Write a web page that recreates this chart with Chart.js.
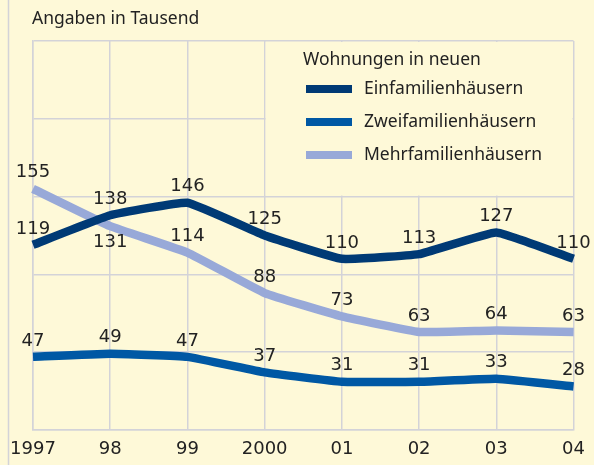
<!DOCTYPE html>
<html>
<head>
<meta charset="utf-8">
<script src="https://cdn.jsdelivr.net/npm/chart.js@4"></script>
<style>
  html, body { margin: 0; padding: 0; background: #fef9d8; }
  #wrap { width: 594px; height: 465px; position: relative; }
</style>
</head>
<body>
<div id="wrap"><canvas id="chart"></canvas></div>
<script>
        const years = ['1997', '98', '99', '2000', '01', '02', '03', '04'];
        const einfamilien = [119, 138, 146, 125, 110, 113, 127, 110];
        const zweifamilien = [47, 49, 47, 37, 31, 31, 33, 28];
        const mehrfamilien = [155, 131, 114, 88, 73, 63, 64, 63];

        const bg = '#fef9d8';
        const gridColor = '#d3d3d8';
        const textColor = '#222222';
        const numFont = '18px "DejaVu Sans"';
        const textFont = '17.5px "Noto Sans"';

        const ctx = document.getElementById('chart').getContext('2d');

        // background, left frame line and the box the legend sits in
        const framePlugin = {
            id: 'frame',
            beforeDraw(chart) {
                const c = chart.ctx;
                c.save();
                c.fillStyle = bg;
                c.fillRect(0, 0, chart.width, chart.height);
                c.strokeStyle = gridColor;
                c.lineWidth = 1.5;
                c.beginPath();
                c.moveTo(8.5, 0);
                c.lineTo(8.5, chart.height);
                c.stroke();
                c.fillStyle = textColor;
                c.font = textFont;
                c.textBaseline = 'middle';
                c.fillText('Angaben in Tausend', 32, 19);
                c.restore();
            },
            beforeDatasetsDraw(chart) {
                const c = chart.ctx;
                const x = chart.scales.x;
                const y = chart.scales.y;
                c.save();
                c.fillStyle = bg;
                const left = x.getPixelForValue(3) + 1;
                const right = x.getPixelForValue(7) - 1;
                const top = y.getPixelForValue(250) + 1;
                const bottom = y.getPixelForValue(150) - 1;
                c.fillRect(left, top, right - left, bottom - top);
                c.restore();
            }
        };

        const legendPlugin = {
            id: 'boxLegend',
            afterDraw(chart) {
                const c = chart.ctx;
                c.save();
                c.fillStyle = textColor;
                c.font = textFont;
                c.textBaseline = 'middle';
                c.fillText('Wohnungen in neuen', 303, 60);
                chart.data.datasets.forEach((ds, i) => {
                    const yy = 89 + i * 33;
                    c.fillStyle = ds.borderColor;
                    c.fillRect(306, yy - 4, 46, 8);
                    c.fillStyle = textColor;
                    c.fillText(ds.label, 364, yy);
                });
                c.restore();
            }
        };

        const valueLabels = {
            id: 'valueLabels',
            afterDatasetsDraw(chart) {
                const c = chart.ctx;
                c.save();
                c.font = numFont;
                c.fillStyle = textColor;
                c.textAlign = 'center';
                chart.data.datasets.forEach((ds, i) => {
                    const meta = chart.getDatasetMeta(i);
                    const below = ds.labelBelow || [];
                    meta.data.forEach((pt, j) => {
                        if (below.includes(j)) {
                            c.textBaseline = 'top';
                            c.fillText(ds.data[j], pt.x, pt.y + 7);
                        } else {
                            c.textBaseline = 'bottom';
                            c.fillText(ds.data[j], pt.x, pt.y - 7);
                        }
                    });
                });
                c.restore();
            }
        };

        const lineStyle = {
            borderWidth: 8.5,
            pointRadius: 0,
            tension: 0.1,
            borderJoinStyle: 'round',
            borderCapStyle: 'butt',
            fill: false
        };

        new Chart(ctx, {
            type: 'line',
            data: {
                labels: years,
                datasets: [
                    Object.assign({ label: 'Einfamilienhäusern', data: einfamilien, borderColor: '#003a75' }, lineStyle),
                    Object.assign({ label: 'Zweifamilienhäusern', data: zweifamilien, borderColor: '#0058a4' }, lineStyle),
                    Object.assign({ label: 'Mehrfamilienhäusern', data: mehrfamilien, borderColor: '#98a9d8', labelBelow: [1] }, lineStyle)
                ]
            },
            options: {
                responsive: true,
                maintainAspectRatio: false,
                animation: false,
                layout: { padding: { left: 33, right: 16, top: 41, bottom: 0 } },
                plugins: {
                    legend: { display: false },
                    tooltip: { enabled: false }
                },
                scales: {
                    x: {
                        offset: false,
                        grid: { color: gridColor, lineWidth: 1.5, drawTicks: false },
                        border: { color: gridColor, width: 1.5 },
                        ticks: {
                            color: textColor,
                            font: { family: 'DejaVu Sans', size: 18 },
                            autoSkip: false,
                            maxRotation: 0,
                            padding: 9
                        },
                        afterFit(scale) { scale.height = 35; }
                    },
                    y: {
                        min: 0,
                        max: 250,
                        grid: { color: gridColor, lineWidth: 1.5, drawTicks: false },
                        border: { color: gridColor, width: 1.5 },
                        ticks: { display: false, stepSize: 50 },
                        afterFit(scale) { scale.width = 0; }
                    }
                }
            },
            plugins: [framePlugin, legendPlugin, valueLabels]
        });
</script>
</body>
</html>
